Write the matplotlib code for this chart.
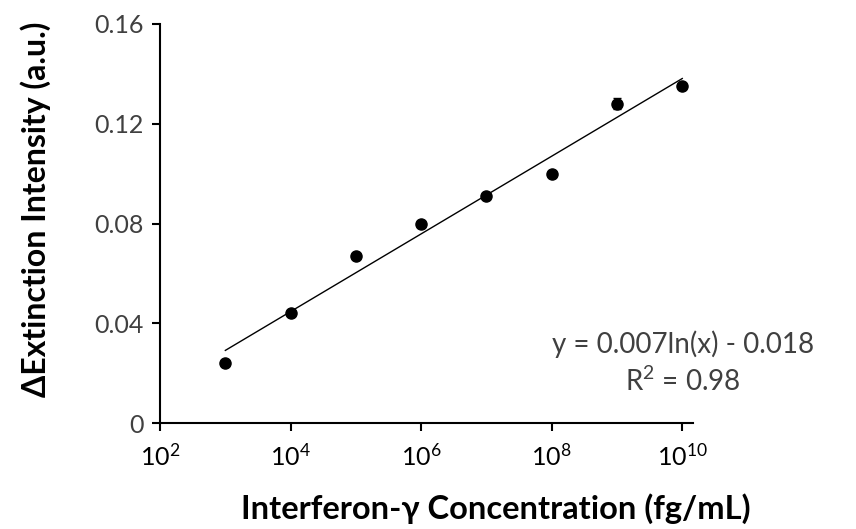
import numpy as np
import matplotlib
matplotlib.use('Agg')
import matplotlib.pyplot as plt

plt.rcParams['font.family'] = ['Lato', 'DejaVu Sans']
plt.rcParams['mathtext.fontset'] = 'custom'
plt.rcParams['mathtext.rm'] = 'Lato'

# data
conc = [1e3, 1e4, 1e5, 1e6, 1e7, 1e8, 1e9, 1e10]
ext = [0.024, 0.044, 0.067, 0.080, 0.091, 0.100, 0.128, 0.135]
err = [0.0008, 0.0008, 0.0008, 0.0008, 0.0008, 0.0012, 0.0022, 0.0012]
xticks = [1e2, 1e4, 1e6, 1e8, 1e10]
xticklabels = ['$\\mathregular{10^{2}}$', '$\\mathregular{10^{4}}$', '$\\mathregular{10^{6}}$',
               '$\\mathregular{10^{8}}$', '$\\mathregular{10^{10}}$']
yticks = [0, 0.04, 0.08, 0.12, 0.16]
yticklabels = ['0', '0.04', '0.08', '0.12', '0.16']

# logarithmic trend line
a, b = np.polyfit(np.log(conc), ext, 1)
xf = np.logspace(3, 10, 100)

fig = plt.figure(figsize=(8.56, 5.29), dpi=100)
ax = fig.add_axes([0.187, 0.2, 0.623, 0.755])

ax.errorbar(conc, ext, yerr=err, fmt='o', color='black', ms=8, capsize=3, elinewidth=1.2)
ax.plot(xf, a * np.log(xf) + b, color='black', lw=1)

ax.set_xscale('log')
ax.set_xlim(1e2, 10**10.17)
ax.set_ylim(0, 0.16)
ax.set_xticks(xticks)
ax.set_xticklabels(xticklabels)
ax.minorticks_off()
ax.set_yticks(yticks)
ax.set_yticklabels(yticklabels)

for s in ['top', 'right']:
    ax.spines[s].set_visible(False)
for s in ['left', 'bottom']:
    ax.spines[s].set_linewidth(1.5)
ax.tick_params(axis='x', direction='out', length=6, width=1.5, labelsize=18, pad=8)
ax.tick_params(axis='y', direction='out', length=6, width=1.5, labelsize=18, labelcolor='#404040', pad=6)

ax.set_xlabel('Interferon-γ Concentration (fg/mL)', fontsize=23.5, fontweight='bold')
ax.xaxis.set_label_coords(0.63, -0.175)
ax.set_ylabel('ΔExtinction Intensity (a.u.)', fontsize=23, fontweight='bold')
ax.yaxis.set_label_coords(-0.205, 0.535)

ax.text(0.98, 0.15, 'y = 0.007ln(x) - 0.018\nR$^{2}$ = 0.98', transform=ax.transAxes,
        ha='center', va='center', fontsize=20, color='#404040', linespacing=1.3)

fig.savefig('out.png', dpi=100)
